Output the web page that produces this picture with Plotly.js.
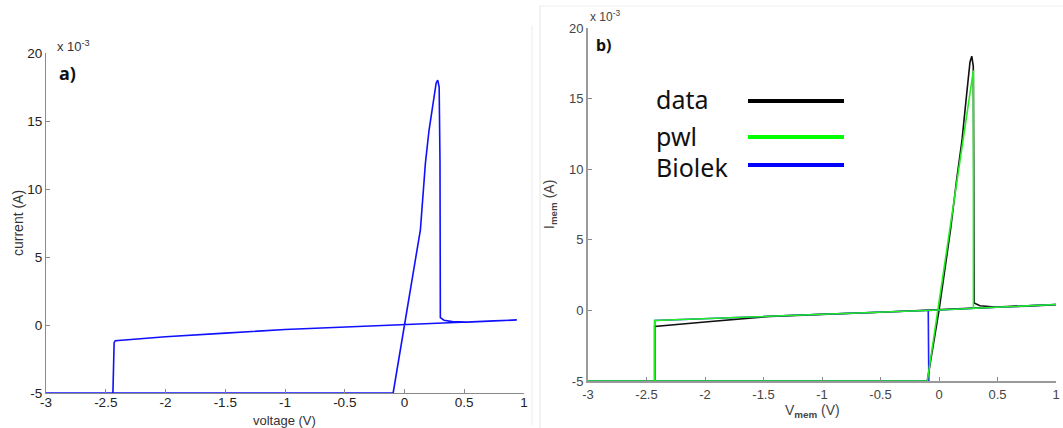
<!DOCTYPE html>
<html>
<head>
<meta charset="utf-8">
<script src="https://cdn.plot.ly/plotly-3.0.1.min.js"></script>
<style>html,body{margin:0;padding:0;background:#fff;}#chart{width:1063px;height:428px;}</style>
</head>
<body>
<div id="chart"></div>
<script>
// Panel a) measured I-V loop (current in units of 1e-3 A)
const voltageA = [0.94, 0.5, 0, -0.5, -1.0, -1.5, -2.0, -2.42, -2.43, -2.44, -3.0, -2.0, -1.0, -0.095, 0, 0.133, 0.175, 0.205, 0.265, 0.278, 0.29, 0.297, 0.30, 0.33, 0.40, 0.52, 0.75, 0.94];
const currentA = [0.37, 0.2, 0.03, -0.15, -0.33, -0.6, -0.86, -1.15, -1.3, -5, -5, -5, -5, -5, 0, 7.0, 11.9, 14.3, 17.8, 18.0, 17.5, 12.0, 0.55, 0.35, 0.25, 0.21, 0.3, 0.37];

// Panel b) data / pwl / Biolek (current in units of 1e-3 A)
const dataV = [1.0, 0.5, 0, -0.5, -1.0, -1.44, -2.0, -2.43, -2.43, -3.0, -2.0, -1.0, -0.1, 0, 0.1, 0.153, 0.196, 0.23, 0.265, 0.28, 0.293, 0.297, 0.30, 0.35, 0.48, 0.75, 1.0];
const dataI = [0.42, 0.22, 0.03, -0.13, -0.28, -0.42, -0.82, -1.13, -5, -5, -5, -5, -5, 0, 5.8, 9.4, 12.0, 14.8, 17.6, 18.0, 17.3, 10.0, 0.52, 0.33, 0.24, 0.3, 0.4];
const pwlV = [1.0, 0, -2.43, -2.43, -3.0, -0.1, 0.294, 0.294, 1.0];
const pwlI = [0.42, 0.03, -0.72, -5, -5, -5, 17.0, 0.15, 0.42];
const biolekV = [1.0, 0, -2.43, -2.43, -3.0, -0.087, -0.092, 0, 1.0];
const biolekI = [0.42, 0.03, -0.72, -5, -5, -5, 0.0, 0.03, 0.42];

const xTicks = [-3, -2.5, -2, -1.5, -1, -0.5, 0, 0.5, 1];
const xTickText = ['-3', '-2.5', '-2', '-1.5', '-1', '-0.5', '0', '0.5', '1'];
const yTicks = [-5, 0, 5, 10, 15, 20];
const yTickText = ['-5', '0', '5', '10', '15', '20'];

const legendNames = ['data', 'pwl', 'Biolek'];
const legendColors = ['#000000', '#00ff00', '#0000ff'];

const W = 1063, H = 428;
const px = v => v / W;
const py = v => 1 - v / H;

const traces = [
  {x: voltageA, y: currentA, xaxis: 'x', yaxis: 'y', mode: 'lines', line: {color: '#1010ff', width: 1.6}, showlegend: false, hoverinfo: 'skip'},
  {x: dataV, y: dataI, xaxis: 'x2', yaxis: 'y2', mode: 'lines', line: {color: '#111111', width: 1.6}, name: legendNames[0], showlegend: false, hoverinfo: 'skip'},
  {x: biolekV, y: biolekI, xaxis: 'x2', yaxis: 'y2', mode: 'lines', line: {color: '#2020ff', width: 1.6}, name: legendNames[2], showlegend: false, hoverinfo: 'skip'},
  {x: pwlV, y: pwlI, xaxis: 'x2', yaxis: 'y2', mode: 'lines', line: {color: '#22ee22', width: 1.6}, name: legendNames[1], showlegend: false, hoverinfo: 'skip'}
];

const axA = {
  showgrid: false, zeroline: false, showline: true, linecolor: '#8a8a8a', linewidth: 1,
  ticks: 'inside', ticklen: 4, tickcolor: '#8a8a8a', tickwidth: 1, ticklabeloverflow: 'allow',
  tickfont: {family: 'Liberation Sans, Arial, sans-serif', size: 13.5, color: '#222'}
};
const axB = {
  showgrid: false, zeroline: false, showline: true, linecolor: '#9a9a9a', linewidth: 2,
  ticks: 'inside', ticklen: 4, tickcolor: '#8a8a8a', tickwidth: 1, ticklabeloverflow: 'allow',
  tickfont: {family: 'Liberation Sans, Arial, sans-serif', size: 13, color: '#444'}
};

const layout = {
  width: W, height: H,
  margin: {l: 0, r: 0, t: 0, b: 0},
  paper_bgcolor: '#ffffff', plot_bgcolor: 'rgba(0,0,0,0)',
  showlegend: false,
  xaxis: Object.assign({}, axA, {domain: [px(46), px(524)], range: [-3, 1], tickvals: xTicks, ticktext: xTickText, anchor: 'y', ticklabelstandoff: -3}),
  yaxis: Object.assign({}, axA, {domain: [py(393), py(53)], range: [-5, 20], tickvals: yTicks, ticktext: yTickText, anchor: 'x'}),
  xaxis2: Object.assign({}, axB, {domain: [px(588), px(1056)], range: [-3, 1], tickvals: xTicks, ticktext: xTickText, anchor: 'y2'}),
  yaxis2: Object.assign({}, axB, {domain: [py(381), py(28)], range: [-5, 20], tickvals: yTicks, ticktext: yTickText, anchor: 'x2'}),
  shapes: [
    {type: 'line', xref: 'paper', yref: 'paper', x0: px(532), x1: px(532), y0: py(425), y1: py(25), line: {color: '#ececec', width: 1}},
    {type: 'line', xref: 'paper', yref: 'paper', x0: px(540), x1: px(540), y0: py(428), y1: py(6), line: {color: '#e6e6e6', width: 1}},
    {type: 'line', xref: 'paper', yref: 'paper', x0: px(540), x1: px(1063), y0: py(6), y1: py(6), line: {color: '#eeeeee', width: 1}}
  ],
  annotations: [
    {xref: 'paper', yref: 'paper', x: px(55), y: py(46), xanchor: 'left', yanchor: 'middle', showarrow: false,
      text: 'x 10<sup>-3</sup>', font: {family: 'Liberation Sans, Arial, sans-serif', size: 13, color: '#333'}},
    {xref: 'paper', yref: 'paper', x: px(57), y: py(73), xanchor: 'left', yanchor: 'middle', showarrow: false,
      text: '<b>a)</b>', font: {family: 'Noto Sans, Liberation Sans, sans-serif', size: 18, color: '#111'}},
    {xref: 'paper', yref: 'paper', x: px(18), y: py(223), xanchor: 'center', yanchor: 'middle', showarrow: false, textangle: -90,
      text: 'current (A)', font: {family: 'Liberation Sans, Arial, sans-serif', size: 14, color: '#333'}},
    {xref: 'paper', yref: 'paper', x: px(284), y: py(420), xanchor: 'center', yanchor: 'middle', showarrow: false,
      text: 'voltage (V)', font: {family: 'Liberation Sans, Arial, sans-serif', size: 13, color: '#333'}},
    {xref: 'paper', yref: 'paper', x: px(588), y: py(16), xanchor: 'left', yanchor: 'middle', showarrow: false,
      text: 'x 10<sup>-3</sup>', font: {family: 'Liberation Sans, Arial, sans-serif', size: 12, color: '#444'}},
    {xref: 'paper', yref: 'paper', x: px(594), y: py(45), xanchor: 'left', yanchor: 'middle', showarrow: false,
      text: '<b>b)</b>', font: {family: 'Noto Sans, Liberation Sans, sans-serif', size: 16, color: '#111'}},
    {xref: 'paper', yref: 'paper', x: px(550), y: py(205), xanchor: 'center', yanchor: 'middle', showarrow: false, textangle: -90,
      text: 'I<sub><b>mem</b></sub> (A)', font: {family: 'Liberation Sans, Arial, sans-serif', size: 14, color: '#444'}},
    {xref: 'paper', yref: 'paper', x: px(812), y: py(411), xanchor: 'center', yanchor: 'middle', showarrow: false,
      text: 'V<sub><b>mem</b></sub> (V)', font: {family: 'Liberation Sans, Arial, sans-serif', size: 14, color: '#444'}}
  ]
};

// Hand-drawn legend: name text on the left, line sample on the right
const legY = [99, 136, 167];
const lineY = [101, 137, 165];
legendNames.forEach((n, i) => {
  layout.annotations.push({xref: 'paper', yref: 'paper', x: px(654), y: py(legY[i]), xanchor: 'left', yanchor: 'middle', showarrow: false,
    text: n, font: {family: 'Noto Sans, Open Sans, sans-serif', size: 25, color: '#111'}});
  layout.shapes.push({type: 'line', xref: 'paper', yref: 'paper', x0: px(748), x1: px(844), y0: py(lineY[i]), y1: py(lineY[i]),
    line: {color: legendColors[i], width: 4}});
});

Plotly.newPlot('chart', traces, layout, {displayModeBar: false, staticPlot: true});
</script>
</body>
</html>
